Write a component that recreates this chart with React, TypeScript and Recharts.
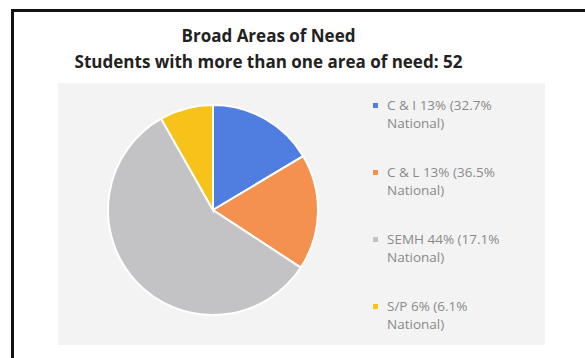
import { PieChart, Pie, Cell } from "recharts";

const areaLabels = [
  "C & I 13% (32.7% National)",
  "C & L 13% (36.5% National)",
  "SEMH 44% (17.1% National)",
  "S/P 6% (6.1% National)",
];
// slice sizes as drawn in the picture (not the legend percentages)
const areaValues = [12, 13, 42, 6];
const areaColours = ["#4f7ee0", "#f4914f", "#c3c3c6", "#f7c21a"];

const data = areaLabels.map((name, i) => ({ name, value: areaValues[i] }));

function LegendList() {
  return (
    <div
      style={{
        position: "absolute",
        left: 373,
        top: 96,
        width: 150,
        fontFamily: "'Open Sans', sans-serif",
        fontSize: 13.5,
        color: "#8a8a8a",
        lineHeight: "18px",
      }}
    >
      {data.map((d, i) => (
        <div key={d.name} style={{ display: "flex", marginBottom: 31 }}>
          <span
            style={{
              width: 5,
              height: 5,
              background: areaColours[i],
              marginTop: 7,
              marginRight: 9,
              flexShrink: 0,
            }}
          />
          <span>{d.name}</span>
        </div>
      ))}
    </div>
  );
}

export default function App() {
  return (
    <div style={{ position: "absolute", left: 0, top: 0, width: 585, height: 358, background: "#fff", overflow: "hidden" }}>
      <div
        style={{
          position: "absolute",
          left: 11,
          top: 9,
          width: 600,
          height: 400,
          border: "3px solid #111",
        }}
      />
      <div style={{ position: "absolute", left: 58, top: 83, width: 487, height: 262, background: "#f3f3f3" }} />
      <div
        style={{
          position: "absolute",
          left: 0,
          width: 537,
          top: 23,
          textAlign: "center",
          fontFamily: "'Open Sans', sans-serif",
          fontWeight: 700,
          fontSize: 17,
          lineHeight: "26px",
          color: "#222",
        }}
      >
        <div>Broad Areas of Need</div>
        <div>Students with more than one area of need: 52</div>
      </div>
      <div style={{ position: "absolute", left: 0, top: 0 }}>
        <PieChart width={585} height={358} margin={{ top: 0, right: 0, bottom: 0, left: 0 }}>
          <Pie
            data={data}
            dataKey="value"
            nameKey="name"
            cx={213}
            cy={210}
            outerRadius={105}
            startAngle={90}
            endAngle={-270}
            stroke="#ffffff"
            strokeWidth={2}
            isAnimationActive={false}
          >
            {data.map((d, i) => (
              <Cell key={d.name} fill={areaColours[i]} />
            ))}
          </Pie>
        </PieChart>
      </div>
      <LegendList />
    </div>
  );
}
